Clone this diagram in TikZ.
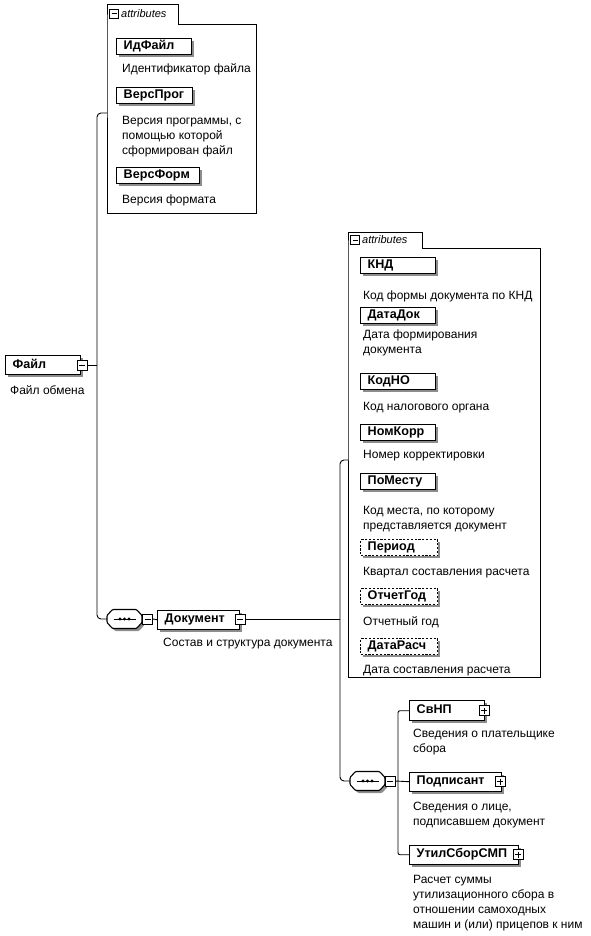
\documentclass[tikz,border=0pt]{standalone}
\usepackage{fontspec}
\setmainfont{Liberation Sans}
\usetikzlibrary{shadows}
\tikzset{
  conn/.style={line width=0.9pt},
  grp/.style={line width=0.9pt},
  shad/.style={drop shadow={shadow xshift=2.5pt, shadow yshift=-2.5pt, fill=black!45, opacity=1}},
  elembox/.style={draw, line width=1.4pt, fill=white, shad, anchor=north west, inner xsep=7pt, inner ysep=0pt,
    font=\fontsize{12.6}{14}\selectfont\bfseries, text height=9pt, text depth=2.5pt, align=left},
  attrel/.style={elembox, minimum height=16pt},
  el/.style={elembox, minimum height=19pt},
  opt/.style={dash pattern=on 2.2pt off 1.6pt},
  desc/.style={anchor=base west, inner sep=0pt, font=\fontsize{12}{15}\selectfont},
  btn/.style={draw, fill=white, minimum size=10pt, inner sep=0pt, line width=0.7pt},
  btnminus/.style={btn, path picture={\draw[line width=0.8pt] ([xshift=2pt]path picture bounding box.west) -- ([xshift=-2pt]path picture bounding box.east);}},
  btnplus/.style={btn, path picture={\draw[line width=0.8pt] ([xshift=2pt]path picture bounding box.west) -- ([xshift=-2pt]path picture bounding box.east);
     \draw[line width=0.8pt] ([yshift=-2pt]path picture bounding box.north) -- ([yshift=2pt]path picture bounding box.south);}},
  seqregion/.style={draw=none, minimum width=35pt, minimum height=19pt, inner sep=0pt},
  tablabel/.style={anchor=west, inner sep=0pt, font=\fontsize{11}{13}\selectfont\itshape},
  region/.style={draw=none, anchor=north west, inner sep=0pt},
}
\newcommand{\dl}[1]{\begin{tabular}[t]{@{}l@{}}#1\end{tabular}}
\newcommand{\seqshape}[1]{%
  \begin{scope}[shift={(#1.center)}]
    \fill[black!45, rounded corners=1pt] (-15,-1) -- (-9.5,-7) -- (14.5,-7) -- (20,-1) -- (20,6) -- (14.5,12) -- (-9.5,12) -- (-15,6) -- cycle;
    \filldraw[fill=white, line width=1.1pt, rounded corners=1pt] (-17.5,-3.5) -- (-12,-9.5) -- (12,-9.5) -- (17.5,-3.5) -- (17.5,3.5) -- (12,9.5) -- (-12,9.5) -- (-17.5,3.5) -- cycle;
    \draw[line width=0.9pt] (-11,0) -- (11,0);
    \fill (-4.5,0) circle (1.7pt) (0,0) circle (1.7pt) (4.5,0) circle (1.7pt);
  \end{scope}}
\begin{document}
\begin{tikzpicture}[x=1pt,y=-1pt]
\useasboundingbox (0,0) rectangle (591,936);

% ---------- Файл ----------
\node[el, text width=61pt] (fajl) at (5,355) {Файл};
\node[btnminus] (fajlb) at ([xshift=1pt]fajl.east) {};
\node[desc] (fajld) at (10,394) {Файл обмена};

% ---------- attributes group A ----------
\node[region, minimum width=149pt, minimum height=189pt] (attrA) at (107,24) {};
\draw[grp] (attrA.north west) -- ++(0,-20) -- ++(71,0) -- ++(0,20) -- (attrA.north east) -- (attrA.south east) -- (attrA.south west) -- cycle;
\node[btnminus, minimum size=9pt] (tabAb) at (114,13.5) {};
\node[tablabel] (tabAl) at (121,13.5) {attributes};

\node[attrel, text width=61pt] (idf) at (116,38) {ИдФайл};
\node[desc] (idfd) at (122,73) {Идентификатор файла};
\node[attrel, text width=62pt] (verp) at (116,87) {ВерсПрог};
\node[desc] (verpd) at (122,125) {\dl{Версия программы, с\\помощью которой\\сформирован файл}};
\node[attrel, text width=69pt] (verf) at (116,167) {ВерсФорм};
\node[desc] (verfd) at (122,203) {Версия формата};

% ---------- Документ ----------
\node[seqregion] (seq1) at (124.5,619) {};
\seqshape{seq1}
\node[btnminus] (seq1b) at (147.5,619) {};
\node[el, text width=68pt] (doc) at (157,609.5) {Документ};
\node[btnminus] (docb) at (doc.east) {};
\node[desc] (docd) at (163,646) {Состав и структура документа};

\coordinate (v1top) at (97,113);
\coordinate (v1bot) at (97,619);
\draw[conn] (fajlb.east) -- (fajlb.east -| v1top);
\draw[conn, rounded corners=4pt] (attrA.west |- v1top) -- (v1top) -- (v1bot) -- (seq1.west);
\draw[conn] (seq1.east) -- (seq1b.west);
\draw[conn] (seq1b.east) -- (doc.west);

% ---------- attributes group B ----------
\node[region, minimum width=192pt, minimum height=429pt] (attrB) at (348,248) {};
\draw[grp] (attrB.north west) -- ++(0,-16) -- ++(74,0) -- ++(0,16) -- (attrB.north east) -- (attrB.south east) -- (attrB.south west) -- cycle;
\node[btnminus, minimum size=9pt] (tabBb) at (355,240) {};
\node[tablabel] (tabBl) at (362,240) {attributes};

\node[attrel, text width=61pt] (knd) at (360,257) {КНД};
\node[desc] (kndd) at (363,299) {Код формы документа по КНД};
\node[attrel, text width=61pt] (datad) at (360,307) {ДатаДок};
\node[desc] (datadd) at (363,338) {\dl{Дата формирования\\документа}};
\node[attrel, text width=61pt] (kodno) at (360,373) {КодНО};
\node[desc] (kodnod) at (363,410) {Код налогового органа};
\node[attrel, text width=61pt] (nomk) at (360,424) {НомКорр};
\node[desc] (nomkd) at (363,458) {Номер корректировки};
\node[attrel, text width=61pt] (pomes) at (360,473) {ПоМесту};
\node[desc] (pomesd) at (363,514) {\dl{Код места, по которому\\представляется документ}};
\node[attrel, opt, text width=63pt] (period) at (360,539) {Период};
\node[desc] (periodd) at (363,575) {Квартал составления расчета};
\node[attrel, opt, text width=63pt] (otchg) at (360,588) {ОтчетГод};
\node[desc] (otchgd) at (363,625) {Отчетный год};
\node[attrel, opt, text width=63pt] (datar) at (360,638) {ДатаРасч};
\node[desc] (datard) at (363,673) {Дата составления расчета};

% ---------- sequence of Документ ----------
\node[seqregion] (seq2) at (367.5,781) {};
\seqshape{seq2}
\node[btnminus] (seq2b) at (390,781) {};

\node[el, minimum height=20pt, text width=61pt] (svnp) at (409,700) {СвНП};
\node[btnplus] (svnpb) at ([xshift=-1pt]svnp.east) {};
\node[desc] (svnpd) at (413,737) {\dl{Сведения о плательщике\\сбора}};
\node[el, text width=78pt] (podp) at (409,771.5) {Подписант};
\node[btnplus] (podpb) at ([xshift=-2pt]podp.east) {};
\node[desc] (podpd) at (413,810) {\dl{Сведения о лице,\\подписавшем документ}};
\node[el, text width=95pt] (utl) at (409,844.5) {УтилСборСМП};
\node[btnplus] (utlb) at ([xshift=-1pt]utl.east) {};
\node[desc] (utld) at (413,883) {\dl{Расчет суммы\\утилизационного сбора в\\отношении самоходных\\машин и (или) прицепов к ним}};

\coordinate (v2top) at (340,460);
\coordinate (v2bot) at (340,781);
\coordinate (v3) at (398,781);
\draw[conn] (docb.east) -- (docb.east -| v2top);
\draw[conn, rounded corners=4pt] (attrB.west |- v2top) -- (v2top) -- (v2bot) -- (seq2.west);
\draw[conn] (seq2.east) -- (seq2b.west);
\draw[conn] (seq2b.east) -- (podp.west);
\draw[conn, rounded corners=2pt] (svnp.west) -- (svnp.west -| v3) -- (utl.west -| v3) -- (utl.west);
\end{tikzpicture}
\end{document}
